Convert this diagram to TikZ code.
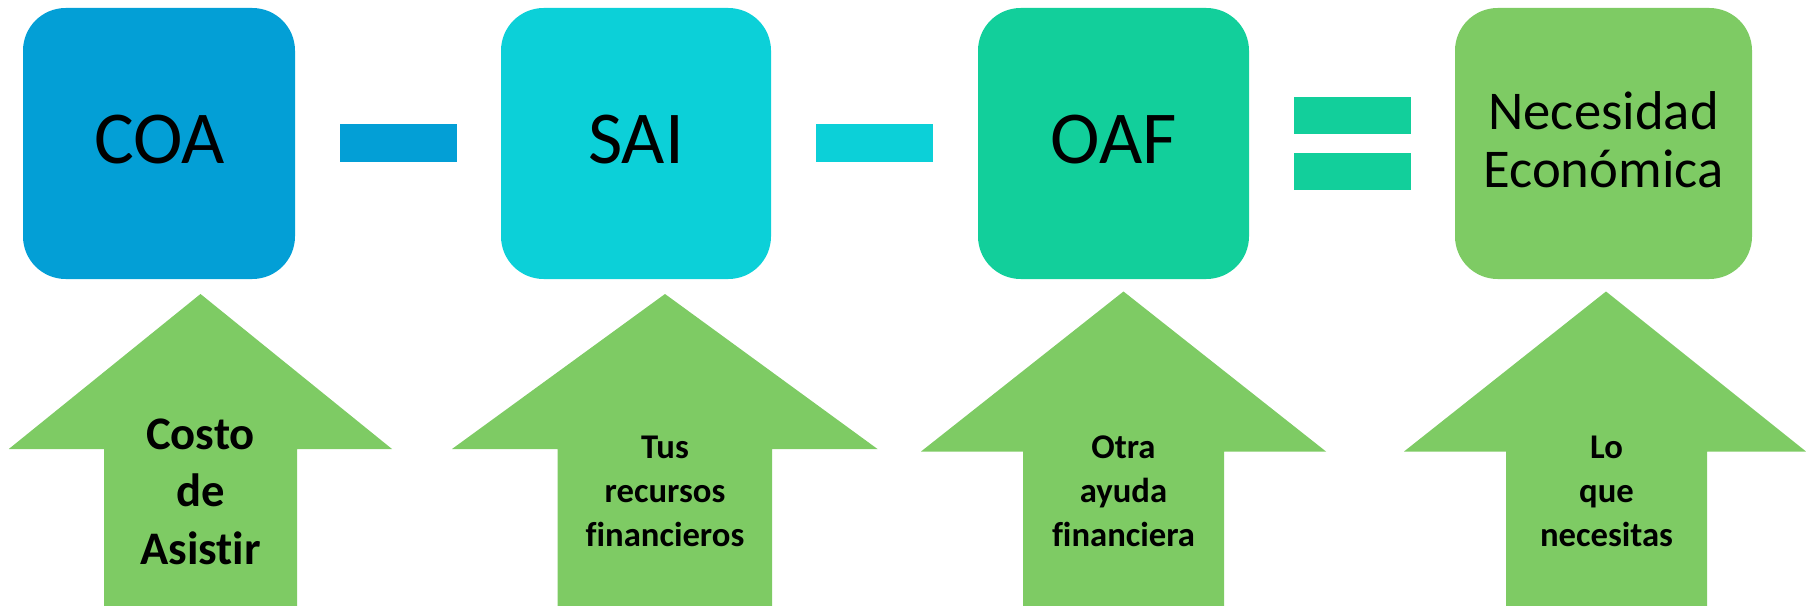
\documentclass[tikz,border=0pt]{standalone}
\usepackage{fontspec}
\setmainfont{Carlito}[Ligatures=NoCommon]
\definecolor{coablue}{RGB}{3,159,214}
\definecolor{saicyan}{RGB}{12,208,216}
\definecolor{oafgreen}{RGB}{18,207,155}
\definecolor{ltgreen}{RGB}{126,203,100}
\tikzset{
  termbox/.style={rectangle, rounded corners=32pt, inner sep=0pt, minimum height=203.25pt},
  opbar/.style={rectangle, inner sep=0pt, minimum width=87.75pt, minimum height=28.5pt},
  bigtxt/.style={inner sep=0pt, anchor=base, font=\fontsize{56}{67}\selectfont},
  netxt/.style={inner sep=0pt, anchor=base, align=center, font=\fontsize{41}{44}\selectfont},
  arrtxtA/.style={inner sep=0pt, anchor=base, align=center, font=\bfseries\fontsize{35}{43}\selectfont},
  arrtxt/.style={inner sep=0pt, anchor=base, align=center, font=\bfseries\fontsize{26}{33}\selectfont},
  uparrow/.style={fill=ltgreen}
}
\begin{document}
\begin{tikzpicture}[x=0.75pt, y=-0.75pt]
\useasboundingbox (0,0) rectangle (1806,606);
% boxes
\node[termbox, fill=coablue, minimum width=204pt] (coa) at (159,143.5) {};
\node[termbox, fill=saicyan, minimum width=202.5pt] (sai) at (636,143.5) {};
\node[termbox, fill=oafgreen, minimum width=203.25pt] (oaf) at (1113.5,143.5) {};
\node[termbox, fill=ltgreen, minimum width=222.75pt] (ne) at (1603.5,143.5) {};
% operators
\node[opbar, fill=coablue] (minus1) at (398.5,143) {};
\node[opbar, fill=saicyan] (minus2) at (874.5,143) {};
\node[opbar, fill=oafgreen, minimum height=28pt] (eqtop) at (1352,115.8) {};
\node[opbar, fill=oafgreen, minimum height=28pt] (eqbot) at (1352,171.8) {};
% box texts
\node[bigtxt] (coat) at (159.5,164) {COA};
\node[bigtxt] (sait) at (636,164) {SAI};
\node[bigtxt] (oaft) at (1113.5,164) {OAF};
\node[netxt] (net) at (1603.5,188) {Necesidad\\Económica};
% arrows
\fill[uparrow] (200.5,294) -- (392,449) -- (297,449) -- (297,606) -- (104,606) -- (104,449) -- (8.8,449) -- cycle;
\fill[uparrow] (665,294) -- (877.5,449) -- (772,449) -- (772,606) -- (557.5,606) -- (557.5,449) -- (452,449) -- cycle;
\fill[uparrow] (1123.5,291.5) -- (1326,451.5) -- (1224,451.5) -- (1224,606) -- (1023,606) -- (1023,451.5) -- (921,451.5) -- cycle;
\fill[uparrow] (1606,291.5) -- (1806,451.5) -- (1707,451.5) -- (1707,606) -- (1506,606) -- (1506,451.5) -- (1404,451.5) -- cycle;
% arrow texts
\node[arrtxtA] (t1) at (200.5,564) {Costo\\de\\Asistir};
\node[arrtxt] (t2) at (665,546.7) {Tus\\recursos\\financieros};
\node[arrtxt] (t3) at (1123.5,546.7) {Otra\\ayuda\\financiera};
\node[arrtxt] (t4) at (1606.5,546.7) {Lo\\que\\necesitas};
\end{tikzpicture}
\end{document}
